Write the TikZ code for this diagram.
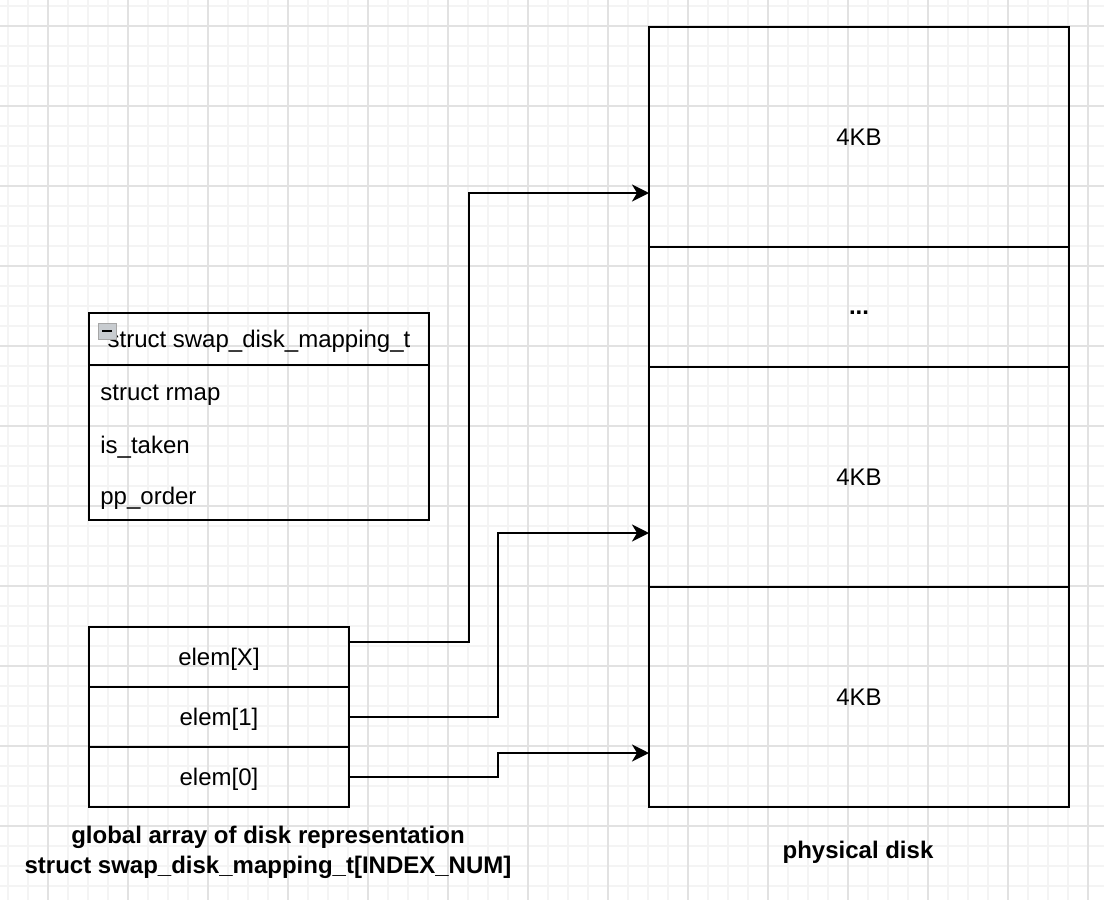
\documentclass[tikz,border=0pt]{standalone}
\usepackage{fontspec}
\setmainfont{Liberation Sans}
\usetikzlibrary{arrows.meta, positioning}
\definecolor{GridMinor}{HTML}{F4F4F4}
\definecolor{GridMajor}{HTML}{E2E2E2}
\definecolor{IconGray}{HTML}{C8CCD0}

\begin{document}
\begin{tikzpicture}[x=0.5pt, y=-0.5pt,
    cell/.style={draw, line width=1pt, outer sep=0pt, inner sep=0pt, text depth=0pt,
        font=\fontsize{12}{15}\selectfont},
    field/.style={anchor=west, inner sep=0pt, font=\fontsize{12}{15}\selectfont},
    lbl/.style={align=center, font=\fontsize{12}{15}\selectfont\bfseries},
    ptr/.style={line width=1pt, -{Stealth[length=8.5pt, width=8.5pt, inset=2.5pt]}}]

    % Canvas and grid
    \useasboundingbox (0,0) rectangle (1104,900);
    \fill[white] (0,0) rectangle (1104,900);
    \foreach \x in {8,28,...,1104} \draw[GridMinor, line width=1pt] (\x,0) -- (\x,900);
    \foreach \y in {6,26,...,900} \draw[GridMinor, line width=1pt] (0,\y) -- (1104,\y);
    \foreach \x in {48,128,...,1104} \draw[GridMajor, line width=0.6pt] (\x,0) -- (\x,900);
    \foreach \y in {26,106,...,900} \draw[GridMajor, line width=0.6pt] (0,\y) -- (1104,\y);

    % Struct definition
    \node[cell, anchor=north west, minimum width=170pt, minimum height=26pt] (hdr) at (89,313) {struct swap\_disk\_mapping\_t};
    \node[cell, minimum width=170pt, minimum height=77.5pt, below=0pt of hdr] (body) {};
    \node[field] (fRmap) at (100,395) {struct rmap};
    \node[field] (fTaken) at (100,447) {is\_taken};
    \node[field] (fOrder) at (100,498) {pp\_order};
    \draw[gray!70, fill=IconGray] (98,323) rectangle (116,339); % collapse icon
    \draw[black, line width=1pt] (102,331) -- (112,331);

    % Array
    \node[cell, anchor=north west, minimum width=130pt, minimum height=30pt] (elemX) at (89,627) {elem[X]};
    \node[cell, minimum width=130pt, minimum height=30pt, below=0pt of elemX] (elemOne) {elem[1]};
    \node[cell, minimum width=130pt, minimum height=30pt, below=0pt of elemOne] (elemZero) {elem[0]};
    \node[lbl] (arrLbl) at (268,852) {global array of disk representation\\struct swap\_disk\_mapping\_t[INDEX\_NUM]};

    % Physical disk
    \node[cell, anchor=north west, minimum width=210pt, minimum height=110pt] (blkA) at (649,27) {4KB};
    \node[cell, minimum width=210pt, minimum height=60pt, below=0pt of blkA, text height=7pt,
        font=\fontsize{12}{15}\selectfont\bfseries] (blkDots) {...};
    \node[cell, minimum width=210pt, minimum height=110pt, below=0pt of blkDots] (blkB) {4KB};
    \node[cell, minimum width=210pt, minimum height=110pt, below=0pt of blkB] (blkC) {4KB};
    \node[lbl] (diskLbl) at (858,852) {physical disk};

    % Pointers
    \draw[ptr] ([yshift=7.5pt]elemX.east) -- ++(60pt,0) |- ([yshift=-28pt]blkA.west);
    \draw[ptr] (elemOne.east) -- ++(74.5pt,0) |- ([yshift=-28pt]blkB.west);
    \draw[ptr] (elemZero.east) -- ++(74.5pt,0) |- ([yshift=-28pt]blkC.west);

\end{tikzpicture}
\end{document}
